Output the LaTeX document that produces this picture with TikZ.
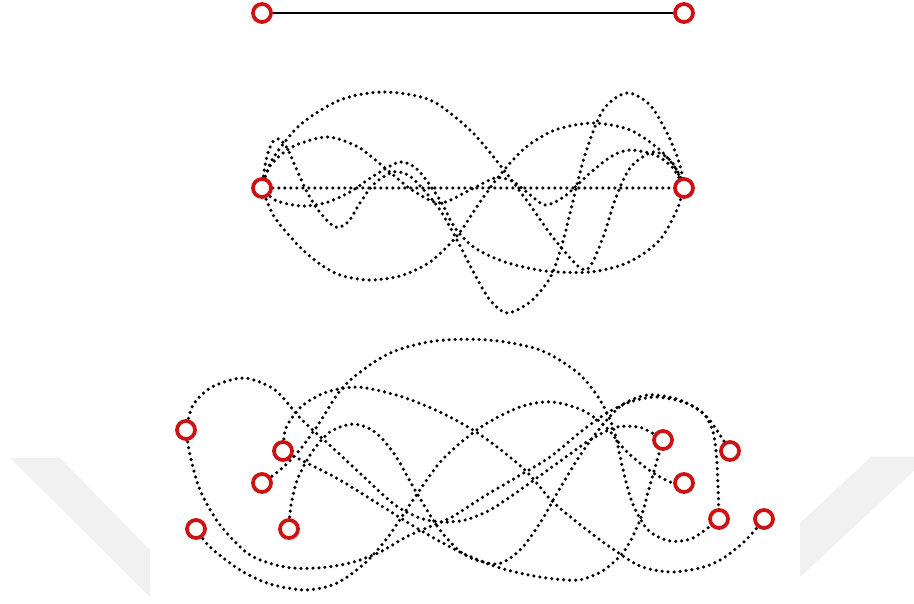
\documentclass[tikz,border=0pt]{standalone}
\usepackage{tikz}
\usetikzlibrary{positioning}
\definecolor{portred}{RGB}{204,18,18}
\definecolor{markgray}{RGB}{241,241,241}
\pgfdeclarelayer{back}
\pgfdeclarelayer{wires}
\pgfsetlayers{back,wires,main}

\begin{document}
\begin{tikzpicture}[x=0.02cm, y=-0.02cm,
  port/.style={circle, draw=portred, line width=0.075cm, fill=white, minimum size=0.36cm, inner sep=0pt},
  wire/.style={black, line width=0.07cm, line cap=round, dash pattern=on 0pt off 0.12cm},
  edge/.style={black, line width=0.05cm}]
\useasboundingbox (0,0) rectangle (914,604);
% faint marks in the background
\begin{pgfonlayer}{back}
\fill[markgray] (10,458) -- (60,458) -- (150,550) -- (150,597) -- cycle;
\fill[markgray] (871,457) -- (914,457) -- (914,471) -- (800,577) -- (800,523) -- cycle;
\end{pgfonlayer}
% top: one straight edge
\node[port] (T1) at (262,13) {};
\node[port] (T2) at (684,13) {};
\draw[edge] (T1) -- (T2);
% middle: many ways between the same two ends
\node[port] (M1) at (262,188) {};
\node[port] (M2) at (684,188) {};
\begin{pgfonlayer}{wires}
\draw[wire] (M1) -- (M2);
\draw[wire] plot[smooth] coordinates {(M1) (272,160) (300,125) (340,100) (383,92) (430,100) (470,130) (500,165) (530,205) (555,240) (585,270) (602,240) (615,200) (630,168) (653,152) (672,162) (M2)};
\draw[wire] plot[smooth] coordinates {(M1) (266,160) (272,143) (279,139) (287,148) (296,168) (306,190) (318,210) (335,227) (348,222) (360,203) (374,184) (393,172) (408,175) (422,188) (440,210) (457,240) (475,275) (490,300) (507,313) (530,302) (550,278) (562,245) (572,205) (585,155) (603,110) (627,93) (650,105) (668,135) (680,165) (M2)};
\draw[wire] plot[smooth] coordinates {(M1) (275,200) (300,206) (325,203) (350,192) (375,175) (400,162) (418,170) (440,200) (455,228) (475,248) (505,262) (545,271) (590,272) (627,263) (658,242) (676,212) (M2)};
\draw[wire] plot[smooth] coordinates {(M1) (270,166) (292,147) (327,137) (358,147) (385,168) (412,190) (440,203) (470,190) (495,178) (512,181) (528,193) (545,205) (565,196) (590,173) (612,156) (630,150) (655,155) (673,168) (M2)};
\draw[wire] plot[smooth] coordinates {(M1) (275,218) (305,252) (335,273) (367,280) (400,276) (430,262) (457,236) (478,205) (500,175) (525,148) (555,130) (593,123) (630,130) (660,150) (678,172) (M2)};
\end{pgfonlayer}
% bottom: ends spread out on both sides
\node[port] (L1) at (186,430) {};
\node[port] (L2) at (283,451) {};
\node[port] (L3) at (262,483) {};
\node[port] (L4) at (196,529) {};
\node[port] (L5) at (289,529) {};
\node[port] (R1) at (663,440) {};
\node[port] (R2) at (730,451) {};
\node[port] (R3) at (684,483) {};
\node[port] (R4) at (719,519) {};
\node[port] (R5) at (764,519) {};
\begin{pgfonlayer}{wires}
\draw[wire] plot[smooth] coordinates {(L1) (193,405) (212,387) (244,378) (275,390) (302,420) (335,450) (364,477) (395,505) (420,518) (442,522) (465,520) (490,510) (520,490) (559,462) (590,440) (617,427) (642,428) (R1)};
\draw[wire] plot[smooth] coordinates {(L1) (190,455) (200,490) (220,525) (250,555) (285,567) (317,568) (350,563) (380,552) (410,535) (450,518) (483,497) (517,477) (550,457) (583,430) (607,413) (630,402) (655,397) (683,402) (703,413) (713,432) (717,463) (R4)};
\draw[wire] plot[smooth] coordinates {(L4) (210,547) (240,570) (270,584) (306,590) (337,583) (365,563) (388,537) (411,503) (442,460) (481,427) (520,407) (551,402) (582,410) (606,427) (625,450) (649,470) (670,482) (R3)};
\draw[wire] plot[smooth] coordinates {(L5) (291,505) (298,478) (312,452) (330,432) (353,424) (375,432) (395,455) (415,490) (440,530) (465,555) (497,564) (520,550) (540,523) (559,490) (579,457) (600,428) (622,405) (648,395) (680,400) (707,417) (R2)};
\draw[wire] plot[smooth] coordinates {(L2) (286,428) (302,406) (327,392) (357,387) (385,392) (411,400) (442,413) (473,430) (501,450) (528,473) (551,500) (578,523) (610,547) (640,566) (670,572) (700,568) (722,559) (746,540) (R5)};
\draw[wire] plot[smooth] coordinates {(L3) (280,470) (298,452) (318,425) (345,385) (388,354) (435,341) (489,340) (540,350) (578,373) (600,400) (614,430) (622,465) (632,502) (648,530) (670,541) (693,538) (R4)};
\draw[wire] plot[smooth] coordinates {(L2) (305,462) (340,480) (380,505) (420,530) (460,552) (500,568) (540,577) (578,580) (604,570) (625,550) (640,520) (650,485) (R1)};
\end{pgfonlayer}
\end{tikzpicture}
\end{document}
